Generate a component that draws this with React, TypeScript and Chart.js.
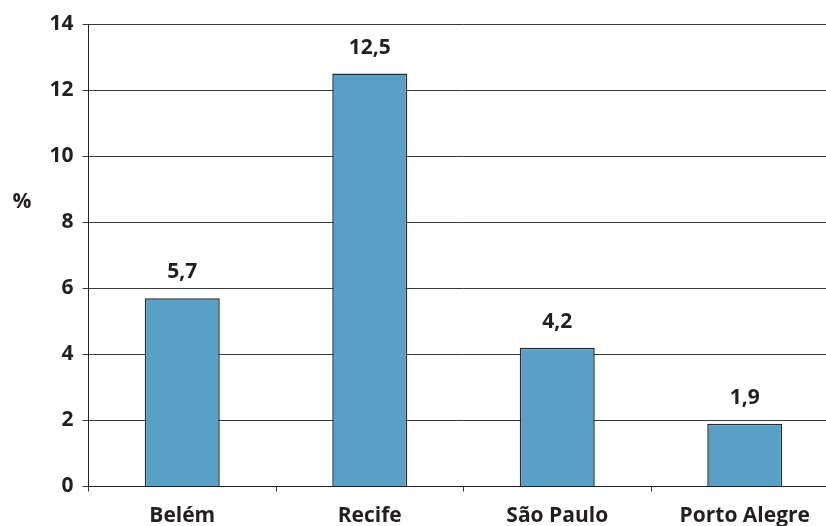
import React, { useEffect, useRef } from "react";
import { Chart, registerables } from "chart.js";

Chart.register(...registerables);

const cities = ["Belém", "Recife", "São Paulo", "Porto Alegre"];
const rates = [5.7, 12.5, 4.2, 1.9];
const yTicks = [0, 2, 4, 6, 8, 10, 12, 14];

const FONT = "'Open Sans', 'DejaVu Sans', sans-serif";
const INK = "#231f20";
const SIZE = 21;

const valueLabels = {
  id: "valueLabels",
  afterDatasetsDraw(chart: any) {
    const ctx = chart.ctx;
    const meta = chart.getDatasetMeta(0);
    ctx.save();
    ctx.font = `700 ${SIZE}px ${FONT}`;
    ctx.fillStyle = INK;
    ctx.textAlign = "center";
    ctx.textBaseline = "middle";
    meta.data.forEach((bar: any, i: number) => {
      const txt = rates[i].toFixed(1).replace(".", ",");
      ctx.fillText(txt, bar.x, bar.y - 26);
    });
    // unit marker beside the value axis
    ctx.fillText("%", 22, 202);
    ctx.restore();
  },
};

export default function App() {
  const ref = useRef<HTMLCanvasElement | null>(null);

  useEffect(() => {
    if (!ref.current) return;
    const chart = new Chart(ref.current, {
      type: "bar",
      data: {
        labels: cities,
        datasets: [
          {
            data: rates,
            backgroundColor: "#58a0c5",
            borderColor: "#2b2b2b",
            borderWidth: 1.5,
            categoryPercentage: 1,
            barPercentage: 0.4,
          },
        ],
      },
      options: {
        animation: false,
        responsive: false,
        layout: { padding: { top: 24, right: 11.5, left: 0, bottom: 0 } },
        plugins: { legend: { display: false }, tooltip: { enabled: false } },
        scales: {
          x: {
            offset: true,
            grid: {
              offset: true,
              drawOnChartArea: false,
              drawTicks: true,
              tickLength: 5,
              color: "#333333",
            },
            border: { display: true, color: "#222222", width: 1 },
            ticks: {
              color: INK,
              font: { family: FONT, size: SIZE, weight: "bold" },
              padding: 12,
              maxRotation: 0,
            },
            afterFit(scale: any) {
              scale.height = 39.5;
            },
          },
          y: {
            min: 0,
            max: 14,
            afterBuildTicks(scale: any) {
              scale.ticks = yTicks.map((v) => ({ value: v }));
            },
            grid: { color: "#3a3a3a", lineWidth: 1, tickLength: 6, drawTicks: true },
            border: { display: true, color: "#222222", width: 1 },
            ticks: {
              color: INK,
              font: { family: FONT, size: SIZE, weight: "bold" },
              padding: 9,
            },
            afterFit(scale: any) {
              scale.width = 88.5;
            },
          },
        },
      },
      plugins: [valueLabels],
    });
    return () => chart.destroy();
  }, []);

  return (
    <div
      style={{
        position: "fixed",
        left: 0,
        top: 0,
        width: 826,
        height: 526,
        overflow: "hidden",
        background: "#ffffff",
      }}
    >
      <canvas ref={ref} width={850} height={526} />
    </div>
  );
}
